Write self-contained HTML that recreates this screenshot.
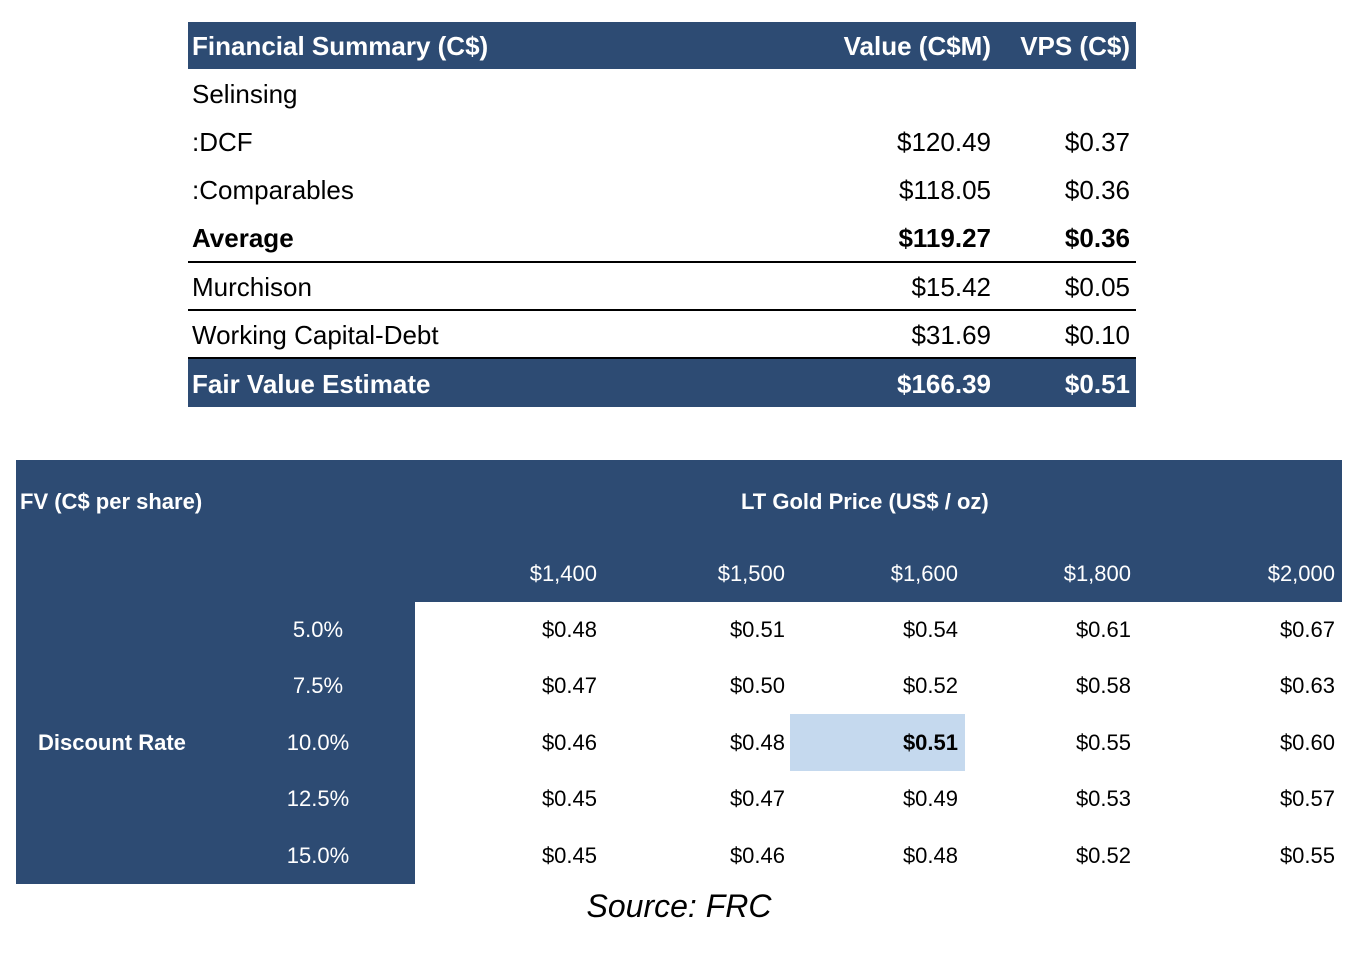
<!DOCTYPE html>
<html><head><meta charset="utf-8"><style>
body{margin:0;width:1354px;height:960px;background:#fff;position:relative;font-family:"Liberation Sans",Arial,sans-serif;overflow:hidden}
.a{position:absolute;white-space:nowrap;line-height:1}
.t{font-size:26px;color:#000}
.w{color:#fff}
.b{font-weight:bold}
.r{text-align:right}
.s{font-size:22px}
.bar{position:absolute;background:#2d4b73}
.ln{position:absolute;left:188px;width:948px;height:2px;background:#000}
</style></head><body>
<div>
<div class="bar" style="left:188px;top:22px;width:948px;height:47px"></div>
<div class="a t w b" style="left:192px;top:33px">Financial Summary (C$)</div>
<div class="a t w b r" style="right:363px;top:33px">Value (C$M)</div>
<div class="a t w b r" style="right:224px;top:33px">VPS (C$)</div>

<div class="a t" style="left:192px;top:81px">Selinsing</div>
<div class="a t" style="left:192px;top:129px">:DCF</div>
<div class="a t r" style="right:363px;top:129px">$120.49</div>
<div class="a t r" style="right:224px;top:129px">$0.37</div>
<div class="a t" style="left:192px;top:177px">:Comparables</div>
<div class="a t r" style="right:363px;top:177px">$118.05</div>
<div class="a t r" style="right:224px;top:177px">$0.36</div>
<div class="a t b" style="left:192px;top:225px">Average</div>
<div class="a t b r" style="right:363px;top:225px">$119.27</div>
<div class="a t b r" style="right:224px;top:225px">$0.36</div>
<div class="ln" style="top:261px"></div>
<div class="a t" style="left:192px;top:274px">Murchison</div>
<div class="a t r" style="right:363px;top:274px">$15.42</div>
<div class="a t r" style="right:224px;top:274px">$0.05</div>
<div class="ln" style="top:309px"></div>
<div class="a t" style="left:192px;top:322px">Working Capital-Debt</div>
<div class="a t r" style="right:363px;top:322px">$31.69</div>
<div class="a t r" style="right:224px;top:322px">$0.10</div>
<div class="ln" style="top:357px"></div>
<div class="bar" style="left:188px;top:359px;width:948px;height:48px"></div>
<div class="a t w b" style="left:192px;top:371px">Fair Value Estimate</div>
<div class="a t w b r" style="right:363px;top:371px">$166.39</div>
<div class="a t w b r" style="right:224px;top:371px">$0.51</div>
</div>

<div>
<div class="bar" style="left:16px;top:460px;width:1326px;height:424px"></div>
<div class="a" style="left:415px;top:602px;width:927px;height:282px;background:#fff"></div>
<div class="a" style="left:790px;top:714px;width:175px;height:57px;background:#c5d9ee"></div>
<div class="a w b s" style="left:20px;top:491px">FV (C$ per share)</div>
<div class="a w b s" style="left:741px;top:491px">LT Gold Price (US$ / oz)</div>
<div class="a w b s" style="left:38px;top:732px">Discount Rate</div>
<div id="grid"></div>
</div>
<div class="a" style="left:0;width:1358px;text-align:center;top:890px;font-size:32px;font-style:italic">Source: FRC</div>
<script>
const prices=["$1,400","$1,500","$1,600","$1,800","$2,000"];
const rates=["5.0%","7.5%","10.0%","12.5%","15.0%"];
const row1=["$0.48","$0.51","$0.54","$0.61","$0.67"];
const row2=["$0.47","$0.50","$0.52","$0.58","$0.63"];
const row3=["$0.46","$0.48","$0.51","$0.55","$0.60"];
const row4=["$0.45","$0.47","$0.49","$0.53","$0.57"];
const row5=["$0.45","$0.46","$0.48","$0.52","$0.55"];
const rows=[row1,row2,row3,row4,row5];
const colRight=[597,785,958,1131,1335];
const g=document.getElementById('grid');
function mk(txt,cls,right,top){const d=document.createElement('div');d.className='a s '+cls;d.textContent=txt;d.style.right=(1354-right)+'px';d.style.top=top+'px';g.appendChild(d);return d;}
prices.forEach((p,i)=>{const d=mk(p,'w r',colRight[i],563);

});
rates.forEach((r,j)=>{const y=619+j*56.4;const d=document.createElement('div');d.className='a s w';d.textContent=r;d.style.left='258px';d.style.width='120px';d.style.textAlign='center';d.style.top=y+'px';g.appendChild(d);


rows[j].forEach((v,i)=>{const c=mk(v,'r'+(j==2&&i==2?' b':''),colRight[i],y);

});});
</script>
</body></html>
